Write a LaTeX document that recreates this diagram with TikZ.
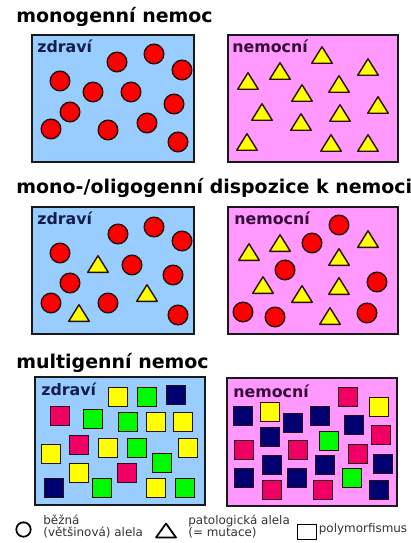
\documentclass[tikz,border=0pt]{standalone}
\usepackage{fontspec}
\setmainfont{DejaVu Sans}
\definecolor{healthyc}{RGB}{153,204,255}
\definecolor{sickc}{RGB}{255,153,255}
\definecolor{alelec}{RGB}{255,0,0}
\definecolor{yelc}{RGB}{255,255,0}
\definecolor{grnc}{RGB}{0,250,0}
\definecolor{navc}{RGB}{0,0,112}
\definecolor{rosec}{RGB}{240,0,100}
\definecolor{rimc}{RGB}{40,15,15}
\definecolor{zdrc}{RGB}{20,30,75}
\definecolor{nemc}{RGB}{55,10,55}

\begin{document}
\begin{tikzpicture}[x=0.02cm, y=-0.02cm, line cap=round,
  title/.style={font=\fontsize{10.8}{12}\selectfont\bfseries, anchor=base west, inner sep=0},
  tag/.style={font=\fontsize{9}{10}\selectfont\bfseries, anchor=base west, inner sep=0},
  legend/.style={font=\fontsize{6.8}{8}\selectfont, text=black!80, anchor=base west, inner sep=0},
  allele/.style={fill=alelec, draw=rimc, line width=0.8pt},
  mutation/.style={fill=yelc, draw=rimc, line width=0.8pt, line join=round},
  poly/.style={draw=rimc, line width=0.8pt},
  panel/.style={draw=black!90, line width=1pt}]
  \def\dotrad{9.8}
  \def\triw{10.3}
  \def\trih{8.3}
  \def\sqh{9.3}
  \fill[white] (0,0) rectangle (411,543);
  \useasboundingbox (0,0) rectangle (411,543);

  % --- monogenic disease
  \node[title] (t-mono) at (16,22.5) {monogenní nemoc};
  \filldraw[panel, fill=healthyc] (32,35) rectangle (194,162);
  \filldraw[panel, fill=sickc] (228,35) rectangle (398,162);
  \node[tag, text=zdrc] (z-mono) at (37,53) {zdraví};
  \node[tag, text=nemc] (n-mono) at (232,53) {nemocní};
  \foreach \x/\y in {117/62,154/54,182/70,60/81,93/92,131/92,174/104,70/112,51/129,108/130,147/123,178/142}
    \filldraw[allele] (\x,\y) circle (\dotrad);
  \foreach \x/\y in {322/55,280/71,368/67,248/81,302/93,339/84,262/112,378/105,340/113,301/122,247/142,331/143,368/143}
    \filldraw[mutation] (\x,\y-\trih) -- (\x+\triw,\y+\trih) -- (\x-\triw,\y+\trih) -- cycle;

  % --- mono-/oligogenic predisposition
  \node[title] (t-oligo) at (16,194) {mono-/oligogenní dispozice k nemoci};
  \filldraw[panel, fill=healthyc] (32,207) rectangle (194,334);
  \filldraw[panel, fill=sickc] (228,207) rectangle (398,334);
  \node[tag, text=zdrc] (z-oligo) at (37,225) {zdraví};
  \node[tag, text=nemc] (n-oligo) at (234,225) {nemocní};
  \foreach \x/\y in {118/234,154/227,182/241,60/253,132/265,173/275,70/283,51/303,108/303,178/315,
                     339/225,312/243,285/270,377/282,243/312,275/317,367/313}
    \filldraw[allele] (\x,\y) circle (\dotrad);
  \foreach \x/\y in {98/264,147/293,79/313,
                     280/243,368/239,249/252,339/257,263/285,302/294,339/286,330/316}
    \filldraw[mutation] (\x,\y-\trih) -- (\x+\triw,\y+\trih) -- (\x-\triw,\y+\trih) -- cycle;

  % --- multigenic disease
  \node[title] (t-multi) at (16,368) {multigenní nemoc};
  \filldraw[panel, fill=healthyc] (35,377) rectangle (205,505);
  \filldraw[panel, fill=sickc] (227,378) rectangle (397,506);
  \node[tag, text=zdrc] (z-multi) at (41,395) {zdraví};
  \node[tag, text=nemc] (n-multi) at (233,397) {nemocní};
  \foreach \x/\y/\c in {118/397/yelc,147/397/grnc,176/395/navc,
                        60/416/rosec,93/419/grnc,128/422/grnc,156/422/yelc,183/422/yelc,
                        79/445/rosec,108/448/yelc,137/448/grnc,51/454/yelc,188/448/yelc,162/463/grnc,
                        79/473/yelc,127/473/rosec,54/488/navc,102/488/grnc,156/488/yelc,185/488/grnc}
    \filldraw[poly, fill=\c] (\x-\sqh,\y-\sqh) rectangle (\x+\sqh,\y+\sqh);
  \foreach \x/\y/\c in {348/397/rosec,379/407/yelc,243/416/navc,270/412/yelc,293/423/navc,
                        320/416/navc,354/425/navc,381/435/rosec,270/437/navc,329/441/grnc,
                        244/450/rosec,298/450/rosec,358/454/rosec,272/465/navc,325/465/navc,
                        383/464/navc,244/478/navc,297/478/navc,352/478/grnc,272/490/rosec,
                        323/490/rosec,379/490/navc}
    \filldraw[poly, fill=\c] (\x-\sqh,\y-\sqh) rectangle (\x+\sqh,\y+\sqh);

  % --- legend
  \draw[black, line width=1pt] (23.5,529.5) circle (7.2);
  \node[legend] (l-common) at (43,524.5) {běžná};
  \node[legend] (l-common2) at (43,536) {(většinová) alela};
  \draw[black, line width=1pt, line join=round] (166,523.5) -- (176,537.5) -- (156,537.5) -- cycle;
  \node[legend] (l-path) at (188,524.5) {patologická alela};
  \node[legend] (l-path2) at (188,536) {(= mutace)};
  \draw[black, line width=1pt] (297.5,524.5) rectangle (316.5,539.5);
  \node[legend] (l-poly) at (318.5,532) {polymorfismus};
\end{tikzpicture}
\end{document}
